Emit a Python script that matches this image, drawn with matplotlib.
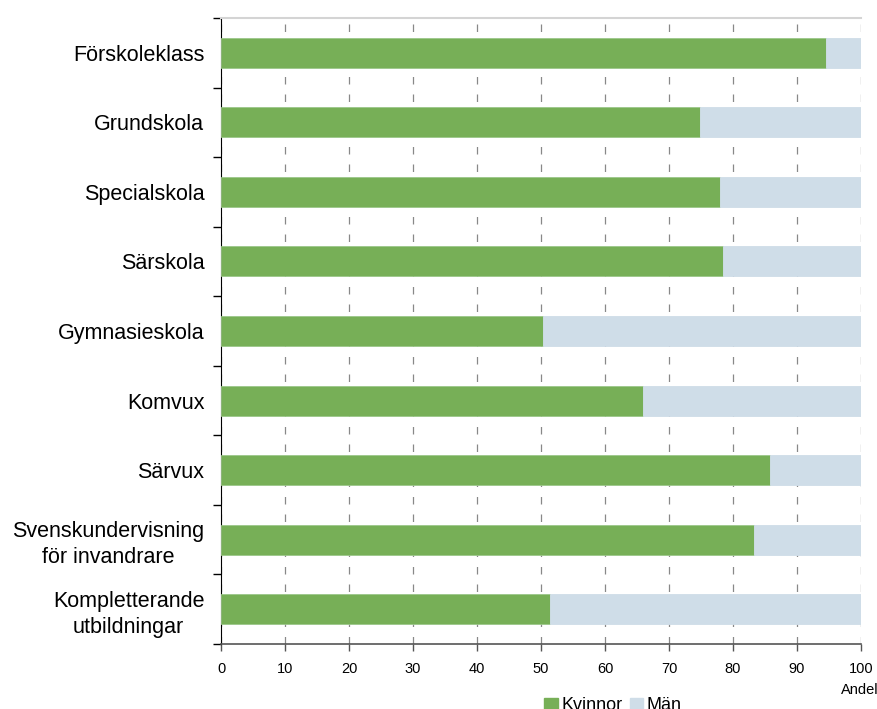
import numpy as np
import matplotlib.pyplot as plt
from matplotlib.patches import Patch

plt.rcParams['font.family'] = ['Liberation Sans', 'DejaVu Sans']

# Andel kvinnor och män per skolform (procent)
skolformer = ["Förskoleklass", "Grundskola", "Specialskola", "Särskola",
              "Gymnasieskola", "Komvux", "Särvux",
              "Svenskundervisning\nför invandrare",
              "Kompletterande\nutbildningar"]
kvinnor = np.array([94.5, 74.8, 78.0, 78.4, 50.3, 65.9, 85.8, 83.3, 51.4])
man = 100 - kvinnor

farg_kv = "#77af57"
farg_man = "#cfdde8"

fig = plt.figure(figsize=(8.78, 7.09), dpi=100)
ax = fig.add_axes([221/878, 65/709, 640/878, 626/709])

y = np.arange(len(skolformer))
ax.barh(y, kvinnor, height=0.43, color=farg_kv, edgecolor="#9cc78a",
        linewidth=0.6, zorder=3)
ax.barh(y, man, left=kvinnor, height=0.43, color=farg_man,
        edgecolor=farg_man, linewidth=0.6, zorder=3)

ax.set_xlim(0, 100)
ax.set_ylim(len(skolformer) - 0.5, -0.5)
ax.set_xticks(np.arange(0, 101, 10))
ax.set_yticks(y)
ax.set_yticklabels(skolformer, fontsize=15.5, ha="right", multialignment="center",
                   linespacing=1.3)
ax.set_yticks(np.arange(-0.5, len(skolformer)), minor=True)

ax.tick_params(axis="y", which="major", length=0, pad=12)
ax.tick_params(axis="y", which="minor", length=6, width=1, color="black")
ax.tick_params(axis="x", length=5, width=1, color="#555555", labelsize=10.5, pad=8)

ax.grid(axis="x", color="#888888", linestyle=(0, (6, 8)), linewidth=0.9, zorder=0)
ax.set_axisbelow(True)

ax.spines["left"].set_color("black")
ax.spines["bottom"].set_color("#555555")
ax.spines["bottom"].set_linewidth(1.2)
ax.spines["top"].set_color("#d4d4d4")
ax.spines["top"].set_linewidth(1.5)
ax.spines["right"].set_visible(False)

fig.text(841/878, 1 - 690/709, "Andel", fontsize=10.5, ha="left", va="center")

handles = [Patch(color=farg_kv, label="Kvinnor"), Patch(color=farg_man, label="Män")]
fig.legend(handles=handles, loc="center", bbox_to_anchor=(613/878, 3/709),
           ncol=2, frameon=False, fontsize=13, handlelength=0.75, handleheight=0.75,
           handletextpad=0.2, columnspacing=0.4, borderpad=0)

fig.savefig("out.png", dpi=100)
